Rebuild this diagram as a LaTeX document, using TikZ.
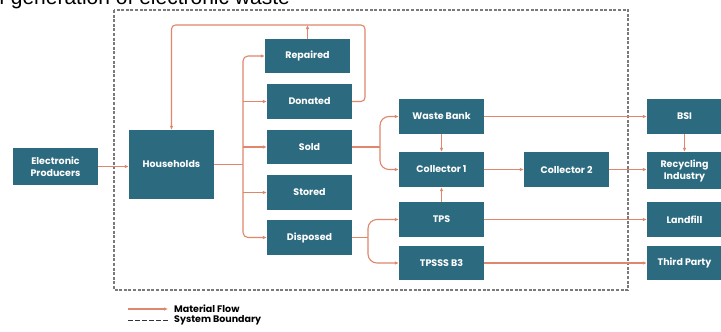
\documentclass[tikz,border=0pt]{standalone}
\usepackage{fontspec}
\setmainfont{Poppins}
\newfontfamily\titlefont{Liberation Sans}
\usetikzlibrary{arrows.meta}
\definecolor{boxteal}{HTML}{2C6A80}
\definecolor{flowc}{HTML}{E0866C}
\definecolor{bndc}{HTML}{7A7A7A}
\tikzset{
  box/.style={fill=boxteal, text=white, inner sep=0pt, align=center,
    font=\fontsize{9.5}{12}\selectfont\bfseries},
  flowline/.style={draw=flowc, line width=1.1pt},
  flow/.style={flowline, -{Latex[length=4pt,width=3.6pt]}},
  boundary/.style={draw=bndc, line width=1.1pt, dash pattern=on 3pt off 1.6pt},
  legendtxt/.style={anchor=west, inner sep=0pt, font=\fontsize{9.5}{11}\selectfont\bfseries}
}
\begin{document}
\begin{tikzpicture}[x=1pt,y=-1pt]
\useasboundingbox (0,0) rectangle (721,332);
\clip (0,0) rectangle (721,332);
\fill[white] (0,0) rectangle (721,332);
% title (cut off at top, as in the reference)
\node[anchor=base west, inner sep=0pt, font=\titlefont\fontsize{21}{24}\selectfont] (title) at (-1,4.5) {f generation of electronic waste};
% system boundary
\draw[boundary] (114,10) rectangle (628,290);
% boxes
\node[box, minimum width=85pt, minimum height=37pt] (prod) at (55.5,166.5) {Electronic\\Producers};
\node[box, minimum width=85pt, minimum height=69pt] (hh) at (171.5,164.5) {Households};
\node[box, minimum width=85pt, minimum height=34pt] (rep) at (307.5,56) {Repaired};
\node[box, minimum width=85pt, minimum height=35pt] (don) at (309.5,101.5) {Donated};
\node[box, minimum width=85pt, minimum height=34pt] (sold) at (309.5,147) {Sold};
\node[box, minimum width=85pt, minimum height=35pt] (stor) at (309.5,192.5) {Stored};
\node[box, minimum width=85pt, minimum height=35pt] (disp) at (309.5,237.5) {Disposed};
\node[box, minimum width=85pt, minimum height=35pt] (wb) at (441.5,116.5) {Waste Bank};
\node[box, minimum width=85pt, minimum height=35pt] (c1) at (441.5,169.5) {Collector 1};
\node[box, minimum width=85pt, minimum height=35pt] (c2) at (566.5,169.5) {Collector 2};
\node[box, minimum width=85pt, minimum height=35pt] (tps) at (441.5,219.5) {TPS};
\node[box, minimum width=85pt, minimum height=34pt] (tpsss) at (441.5,263) {TPSSS B3};
\node[box, minimum width=75pt, minimum height=35pt] (bsi) at (684.5,116.5) {BSI};
\node[box, minimum width=75pt, minimum height=37pt] (rec) at (684.5,170.5) {Recycling\\Industry};
\node[box, minimum width=75pt, minimum height=35pt] (land) at (684.5,219.5) {Landfill};
\node[box, minimum width=75pt, minimum height=34pt] (third) at (684.5,263) {Third Party};
% helper coordinates
\coordinate (bx) at (243,0);
\coordinate (sx) at (380,0);
\coordinate (dx) at (368,0);
\coordinate (loopR) at (365,25);
% connectors
\draw[flow] (prod) -- (prod -| hh.west);
\draw[flowline] (hh.east) -- (hh.east -| bx);
\draw[flow, rounded corners=5pt] (hh.east -| bx) |- (rep.west);
\draw[flow, rounded corners=5pt] (hh.east -| bx) |- (disp.west);
\draw[flow] (bx |- don.west) -- (don.west);
\draw[flow] (bx |- sold.west) -- (sold.west);
\draw[flow] (bx |- stor.west) -- (stor.west);
\draw[flow, rounded corners=4pt] (don.east) -| (loopR) -| (hh.north);
\draw[flow] (rep.north) -- (rep.north |- loopR);
\draw[flowline] (sold.east) -- (sold.east -| sx);
\draw[flow, rounded corners=9pt] (sold.east -| sx) |- (wb.west);
\draw[flow, rounded corners=9pt] (sold.east -| sx) |- (c1.west);
\draw[flow] (wb.south) -- (c1.north);
\draw[flow] (tps.north) -- (c1.south);
\draw[flow] (c1.east) -- (c2.west);
\draw[flow] (c2.east) -- (c2.east -| rec.west);
\draw[flow] (wb.east) -- (bsi.west);
\draw[flow] (bsi.south) -- (rec.north);
\draw[flowline] (disp.east) -- (disp.east -| dx);
\draw[flow, rounded corners=9pt] (disp.east -| dx) |- (tps.west);
\draw[flow, rounded corners=9pt] (disp.east -| dx) |- (tpsss.west);
\draw[flow] (tps.east) -- (land.west);
\draw[flow] (tpsss.east) -- (third.west);
% legend
\coordinate (lf1) at (128,309);
\coordinate (lf2) at (168,309);
\coordinate (lb1) at (128,320);
\coordinate (lb2) at (168,320);
\draw[flow] (lf1) -- (lf2);
\draw[draw=black!80, line width=1pt, dash pattern=on 5pt off 2pt] (lb1) -- (lb2);
\node[legendtxt] (lft) at (174,309) {Material Flow};
\node[legendtxt] (lbt) at (174,320) {System Boundary};
\end{tikzpicture}
\end{document}
